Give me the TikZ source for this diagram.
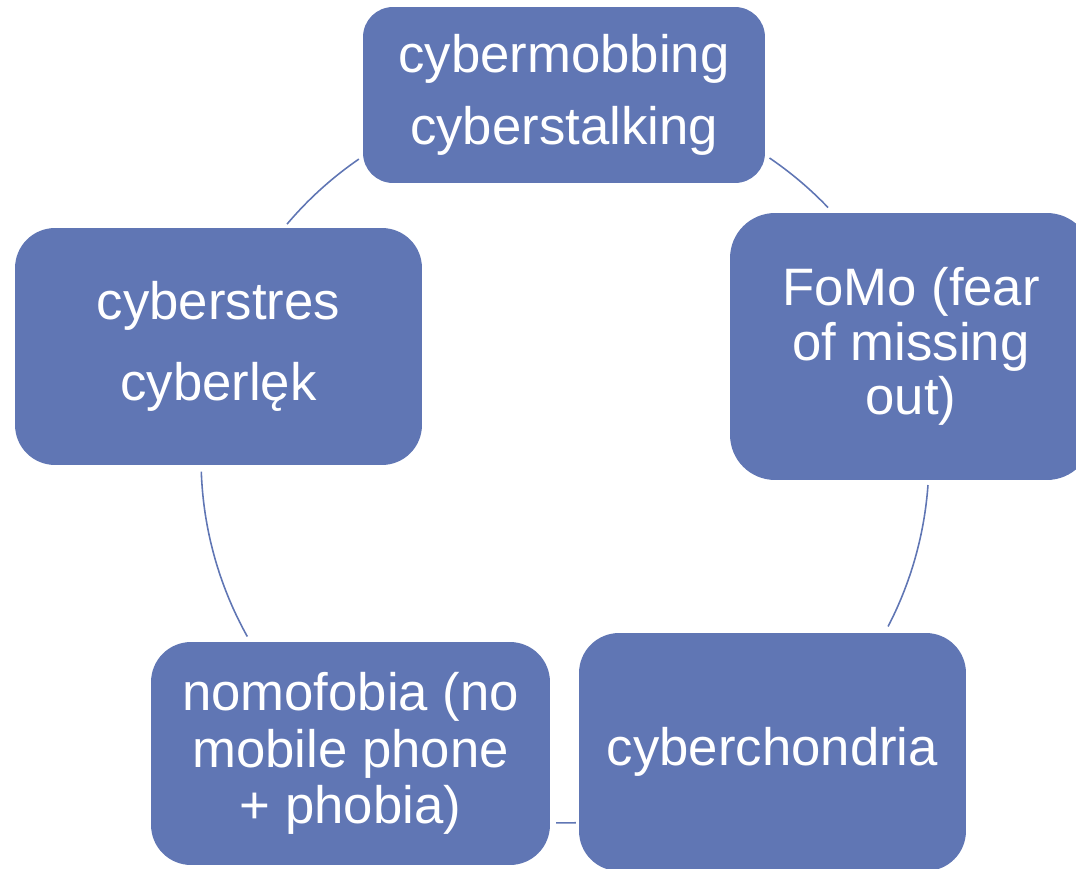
\documentclass[tikz,border=0pt]{standalone}
\usepackage{fontspec}
\setmainfont{Liberation Sans}
\usetikzlibrary{calc}
\definecolor{boxblue}{RGB}{96,118,180}
\begin{document}
\begin{tikzpicture}[x=0.02cm, y=-0.02cm,
    item/.style={fill=boxblue, text=white, align=center, inner sep=0pt},
    ring/.style={draw=boxblue, line width=0.9pt}]
    \useasboundingbox (0,0) rectangle (1076,869);
    \clip (0,0) rectangle (1076,869);
    \coordinate (c) at (565,459);
    % the five boxes
    \node[item, minimum width=8.04cm, minimum height=3.52cm, rounded corners=0.6cm,
          font=\fontsize{30}{41}\selectfont] (mob) at (564,95) {cybermobbing\\cyberstalking};
    \node[item, minimum width=7.24cm, minimum height=5.34cm, rounded corners=0.9cm,
          font=\fontsize{30}{31}\selectfont] (fomo) at (911,346.5) {FoMo (fear\\of missing\\out)};
    \node[item, minimum width=7.74cm, minimum height=4.76cm, rounded corners=0.8cm,
          font=\fontsize{30}{36}\selectfont] (chondria) at (772.5,752) {cyberchondria};
    \node[item, minimum width=7.98cm, minimum height=4.46cm, rounded corners=0.8cm,
          font=\fontsize{30}{32}\selectfont] (nomo) at (350.5,753.5) {nomofobia (no\\mobile phone\\+ phobia)};
    \node[item, minimum width=8.14cm, minimum height=4.74cm, rounded corners=0.8cm,
          font=\fontsize{30}{46.5}\selectfont] (stres) at (218.5,346.5) {cyberstres\\cyberlęk};
    % arcs of the ring between the boxes
    \coordinate (mob-fomo) at ($(c)+(55.8:7.28cm)$);
    \coordinate (fomo-chondria) at ($(c)+(-4.1:7.28cm)$);
    \coordinate (chondria-nomo) at ($(c)+(-88.3:7.28cm)$);
    \coordinate (nomo-stres) at ($(c)+(-150.8:7.28cm)$);
    \coordinate (stres-mob) at ($(c)+(139.8:7.28cm)$);
    \draw[ring] (mob-fomo) arc[start angle=55.8, end angle=43.7, radius=7.28cm];
    \draw[ring] (fomo-chondria) arc[start angle=-4.1, end angle=-27.4, radius=7.28cm];
    \draw[ring] (chondria-nomo) arc[start angle=-88.3, end angle=-91.4, radius=7.28cm];
    \draw[ring] (nomo-stres) arc[start angle=-150.8, end angle=-178, radius=7.28cm];
    \draw[ring] (stres-mob) arc[start angle=139.8, end angle=124.5, radius=7.28cm];
\end{tikzpicture}
\end{document}
